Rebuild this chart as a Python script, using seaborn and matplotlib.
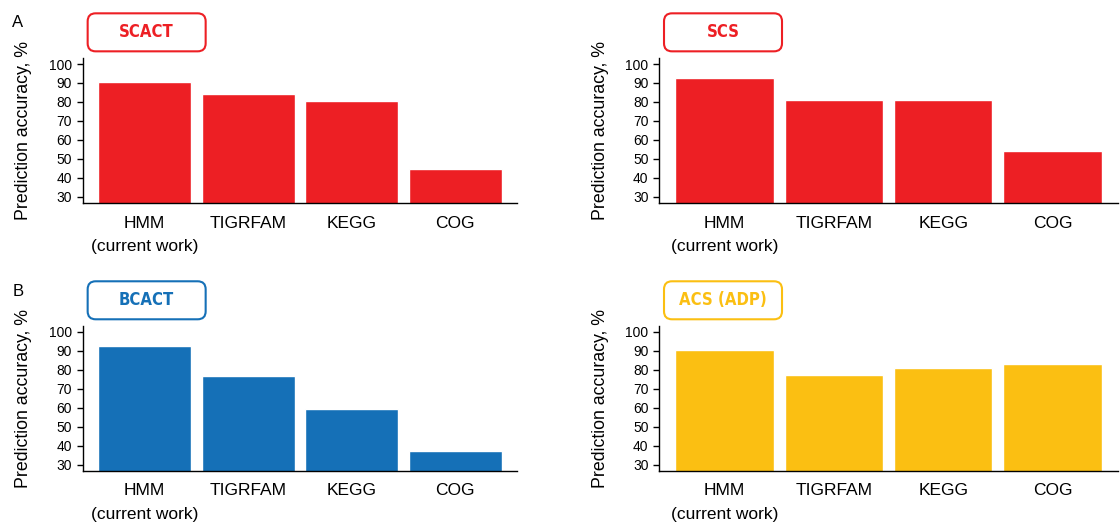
import matplotlib
matplotlib.use("Agg")
import matplotlib.pyplot as plt
from matplotlib.patches import FancyBboxPatch
import seaborn as sns
import pandas as pd

methods = ["HMM\n(current work)", "TIGRFAM", "KEGG", "COG"]
scact = [90.5, 84.0, 80.4, 44.8]
scs = [92.6, 81.0, 81.0, 54.0]
bcact = [92.4, 76.5, 59.1, 37.4]
acs_adp = [90.3, 77.1, 80.8, 82.9]

panels = [
    ("SCACT", scact, "#ED1F24", (0.0738, 0.6133)),
    ("SCS", scs, "#ED1F24", (0.5884, 0.6133)),
    ("BCACT", bcact, "#1570B7", (0.0738, 0.1029)),
    ("ACS (ADP)", acs_adp, "#FBBF12", (0.5884, 0.1029)),
]
widths = {0.0738: 0.388, 0.5884: 0.41}

sns.set_style("ticks")
plt.rcParams["font.family"] = ["Liberation Sans", "DejaVu Sans"]
plt.rcParams["text.color"] = "black"
plt.rcParams["xtick.color"] = "black"
plt.rcParams["ytick.color"] = "black"
plt.rcParams["axes.edgecolor"] = "black"
plt.rcParams["axes.labelcolor"] = "black"

fig = plt.figure(figsize=(11.2, 5.25), dpi=100)

for name, vals, col, (left, bottom) in panels:
    ax = fig.add_axes([left, bottom, widths[left], 0.2756])
    df = pd.DataFrame({"method": methods, "acc": vals})
    sns.barplot(data=df, x="method", y="acc", color=col, saturation=1,
                width=0.9, ax=ax)
    ax.set_xlim(-0.6, 3.6)
    ax.set_ylim(26.6, 103)
    ax.set_yticks(range(30, 101, 10))
    sns.despine(ax=ax)
    ax.spines["left"].set_linewidth(1.0)
    ax.spines["bottom"].set_linewidth(1.0)
    ax.tick_params(axis="y", labelsize=10, length=4.5, width=1.0, pad=3)
    ax.tick_params(axis="x", labelsize=12.5, length=0, pad=9)
    for t in ax.get_xticklabels():
        t.set_linespacing(1.7)
        t.set_verticalalignment("top")
    ax.set_xlabel("")
    ax.set_ylabel("Prediction accuracy, %", fontsize=12.8, labelpad=12)

    # label box above each panel
    x0 = left * 11.2 + 0.05
    y0 = (bottom + 0.2756) * 5.25 + 0.07
    box = FancyBboxPatch((x0, y0), 1.18, 0.38,
                         boxstyle="round,pad=0,rounding_size=0.08",
                         transform=fig.dpi_scale_trans, facecolor="white",
                         edgecolor=col, linewidth=1.5)
    fig.patches.append(box)
    fig.text(x0 + 0.59, y0 + 0.19, name, transform=fig.dpi_scale_trans,
             ha="center", va="center", color=col, fontsize=12,
             fontweight="bold", fontstretch="condensed",
             family=["DejaVu Sans"])

fig.text(0.011, 0.957, "A", fontsize=12, va="center")
fig.text(0.011, 0.445, "B", fontsize=12, va="center")

fig.savefig("out.png", dpi=100)
